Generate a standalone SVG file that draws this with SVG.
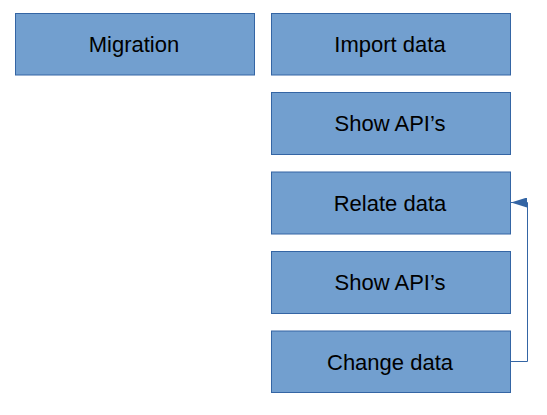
<svg xmlns="http://www.w3.org/2000/svg" width="547" height="415" viewBox="0 0 547 415">
<defs>
<style>
.box{fill:#729fcf;stroke:#3465a4;stroke-width:1}
.lbl{font-family:"Liberation Sans",Arial,sans-serif;font-size:22px;fill:#000;text-anchor:middle;dominant-baseline:central}
.conn{fill:none;stroke:#3465a4;stroke-width:1}
</style>
<marker id="arr" markerWidth="16" markerHeight="10" refX="16" refY="5" orient="auto" markerUnits="userSpaceOnUse">
<path d="M0,0 L16,5 L0,10 Z" fill="#3465a4"/>
</marker>
</defs>
<g id="migration"><rect class="box" x="15.5" y="13.5" width="239" height="61.5"/><text class="lbl" x="134" y="44">Migration</text></g>
<g id="import-data"><rect class="box" x="271.5" y="13.5" width="239" height="61.5"/><text class="lbl" x="390" y="44">Import data</text></g>
<g id="show-apis-1"><rect class="box" x="271.5" y="92.5" width="239" height="62"/><text class="lbl" x="390" y="123.5">Show API’s</text></g>
<g id="relate-data"><rect class="box" x="271.5" y="172" width="239" height="62"/><text class="lbl" x="390" y="203">Relate data</text></g>
<g id="show-apis-2"><rect class="box" x="271.5" y="251.5" width="239" height="62"/><text class="lbl" x="390" y="282.5">Show API’s</text></g>
<g id="change-data"><rect class="box" x="271.5" y="331" width="239" height="61.5"/><text class="lbl" x="390" y="362">Change data</text></g>
<g id="connectors"><path class="conn" d="M511,361.5 H527.5 V202.5 H511" marker-end="url(#arr)"/></g>
</svg>
